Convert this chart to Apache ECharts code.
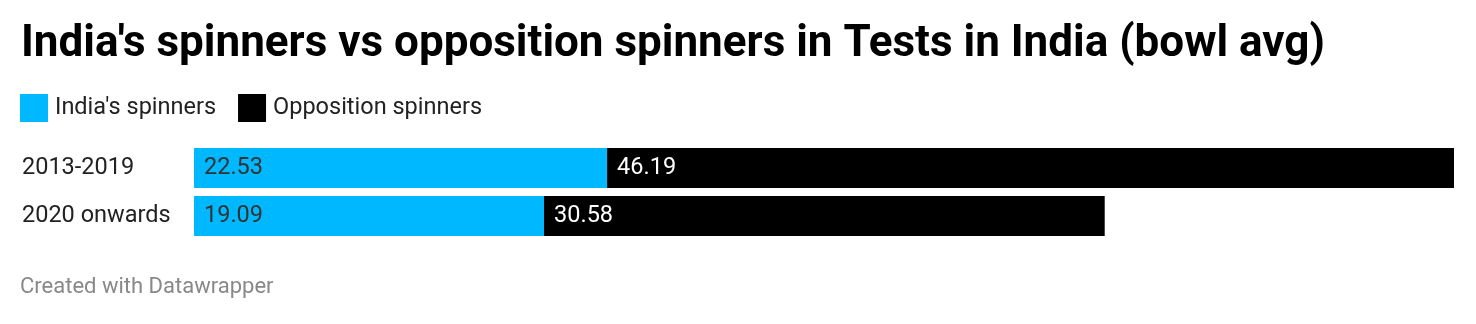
<!DOCTYPE html>
<html>
<head>
<meta charset="utf-8">
<script src="https://cdn.jsdelivr.net/npm/echarts@6/dist/echarts.min.js"></script>
<style>
  html, body { margin: 0; padding: 0; background: #fff; }
  #chart { width: 1476px; height: 324px; }
</style>
</head>
<body>
<div id="chart"></div>
<script>
// Bowling averages of spinners in home Tests, by period
const periods = ['2013-2019', '2020 onwards'];
const indiaSpinners = [22.53, 19.09];
const oppositionSpinners = [46.19, 30.58];
const seriesNames = ["India's spinners", 'Opposition spinners'];

const FONT = 'Roboto, "Noto Sans", sans-serif';
const maxTotal = Math.max(...periods.map((_, i) => indiaSpinners[i] + oppositionSpinners[i]));

const chart = echarts.init(document.getElementById('chart'), null, { renderer: 'canvas' });

chart.setOption({
  animation: false,
  backgroundColor: '#ffffff',
  title: {
    text: "India's spinners vs opposition spinners in Tests in India (bowl avg)",
    left: 16,
    top: 18,
    textStyle: { fontFamily: FONT, fontWeight: 'bold', fontSize: 44, color: '#000' }
  },
  legend: {
    left: 20,
    top: 94,
    padding: 0,
    itemWidth: 28,
    itemHeight: 28,
    itemGap: 22,
    icon: 'rect',
    selectedMode: false,
    data: seriesNames,
    textStyle: { fontFamily: FONT, fontSize: 23.5, color: '#222', padding: [0, 0, 0, 2] }
  },
  graphic: [{
    type: 'text',
    left: 20,
    top: 276,
    style: { text: 'Created with Datawrapper', font: '22px ' + FONT, fill: '#888' }
  }],
  grid: { left: 194, right: 22, top: 144, height: 96, containLabel: false },
  xAxis: {
    type: 'value',
    min: 0,
    max: maxTotal,
    show: false
  },
  yAxis: {
    type: 'category',
    inverse: true,
    data: periods,
    axisLine: { show: false },
    axisTick: { show: false },
    splitLine: { show: false },
    axisLabel: {
      margin: 172,
      align: 'left',
      fontFamily: FONT,
      fontSize: 23.5,
      color: '#222'
    }
  },
  series: [
    {
      name: seriesNames[0],
      type: 'bar',
      stack: 'avg',
      data: indiaSpinners,
      barWidth: 40,
      itemStyle: { color: '#00b8ff' },
      label: {
        show: true,
        position: 'insideLeft',
        distance: 10,
        fontFamily: FONT,
        fontSize: 23.5,
        color: '#333',
        formatter: p => p.value.toFixed(2)
      }
    },
    {
      name: seriesNames[1],
      type: 'bar',
      stack: 'avg',
      data: oppositionSpinners,
      barWidth: 40,
      itemStyle: { color: '#000000' },
      label: {
        show: true,
        position: 'insideLeft',
        distance: 10,
        fontFamily: FONT,
        fontSize: 23.5,
        color: '#ffffff',
        formatter: p => p.value.toFixed(2)
      }
    }
  ]
});
</script>
</body>
</html>
